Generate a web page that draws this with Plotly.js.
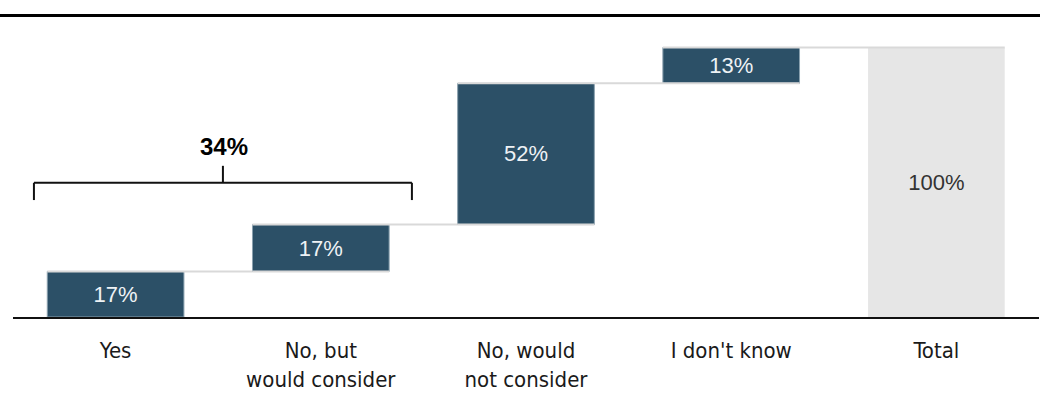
<!DOCTYPE html>
<html>
<head>
<meta charset="utf-8">
<script src="https://cdn.plot.ly/plotly-3.0.1.min.js"></script>
<style>
  html, body { margin: 0; padding: 0; background: #fff; }
  #chart { width: 1040px; height: 418px; }
</style>
</head>
<body>
<div id="chart"></div>
<script>
// ---- data ----
const categories = ["Yes", "No, but<br>would consider", "No, would<br>not consider", "I don't know", "Total"];
const values = [16.9, 17.4, 52.4, 13.3];
const totalLabel = "Total";
const bracketLabel = "34%";

// ---- derived ----
const total = values.reduce((a, b) => a + b, 0);
const yVals = values.concat([total]);
const measures = values.map(() => "relative").concat(["total"]);
const labels = values.map(v => Math.round(v) + "%").concat([Math.round(total) + "%"]);
const textColors = values.map(() => "#eef2f5").concat(["#333333"]);

const trace = {
  type: "waterfall",
  x: categories,
  y: yVals,
  measure: measures,
  text: labels,
  textinfo: "text",
  textposition: "inside",
  insidetextanchor: "middle",
  textfont: { family: "Liberation Sans, Arial, sans-serif", size: 22, color: textColors },
  constraintext: "none",
  width: 0.666,
  increasing: { marker: { color: "#2c5067", line: { color: "#8aa0ae", width: 1 } } },
  decreasing: { marker: { color: "#2c5067", line: { color: "#8aa0ae", width: 1 } } },
  totals: { marker: { color: "#e6e6e6", line: { color: "#e6e6e6", width: 0 } } },
  connector: { mode: "spanning", line: { color: "#d9d9d9", width: 2 } },
  hoverinfo: "skip",
  cliponaxis: false
};

const layout = {
  width: 1040,
  height: 418,
  margin: { l: 13, r: 1, t: 16, b: 101 },
  paper_bgcolor: "#ffffff",
  plot_bgcolor: "#ffffff",
  showlegend: false,
  xaxis: {
    type: "category",
    range: [-0.5, 4.5],
    showgrid: false,
    zeroline: false,
    showline: true,
    linecolor: "#111111",
    linewidth: 2,
    ticks: "",
    ticklabelstandoff: 13,
    tickfont: { family: "Liberation Sans Narrow, DejaVu Sans Condensed, Arial, sans-serif", size: 22, color: "#1a1a1a" },
    fixedrange: true
  },
  yaxis: {
    range: [0, 111.7],
    visible: false,
    fixedrange: true
  },
  shapes: [
    // top rule
    { type: "line", xref: "paper", yref: "paper", x0: -13 / 1026, x1: 1 + 1 / 1026, y0: 1.002, y1: 1.002,
      line: { color: "#000000", width: 3 } },
    // bracket over first two bars
    { type: "line", xref: "x", yref: "y", x0: -0.398, x1: 1.444, y0: 49.8, y1: 49.8, line: { color: "#111", width: 2 } },
    { type: "line", xref: "x", yref: "y", x0: -0.398, x1: -0.398, y0: 43.4, y1: 49.8, line: { color: "#111", width: 2 } },
    { type: "line", xref: "x", yref: "y", x0: 1.444, x1: 1.444, y0: 43.4, y1: 49.8, line: { color: "#111", width: 2 } },
    { type: "line", xref: "x", yref: "y", x0: 0.523, x1: 0.523, y0: 49.8, y1: 56.1, line: { color: "#111", width: 2 } }
  ],
  annotations: [
    { xref: "x", yref: "y", x: 0.53, y: 63.2, text: "<b>" + bracketLabel + "</b>", showarrow: false,
      font: { family: "Liberation Sans, Arial, sans-serif", size: 24, color: "#000" },
      xanchor: "center", yanchor: "middle" }
  ]
};

Plotly.newPlot("chart", [trace], layout, { displayModeBar: false, staticPlot: true });
</script>
</body>
</html>
